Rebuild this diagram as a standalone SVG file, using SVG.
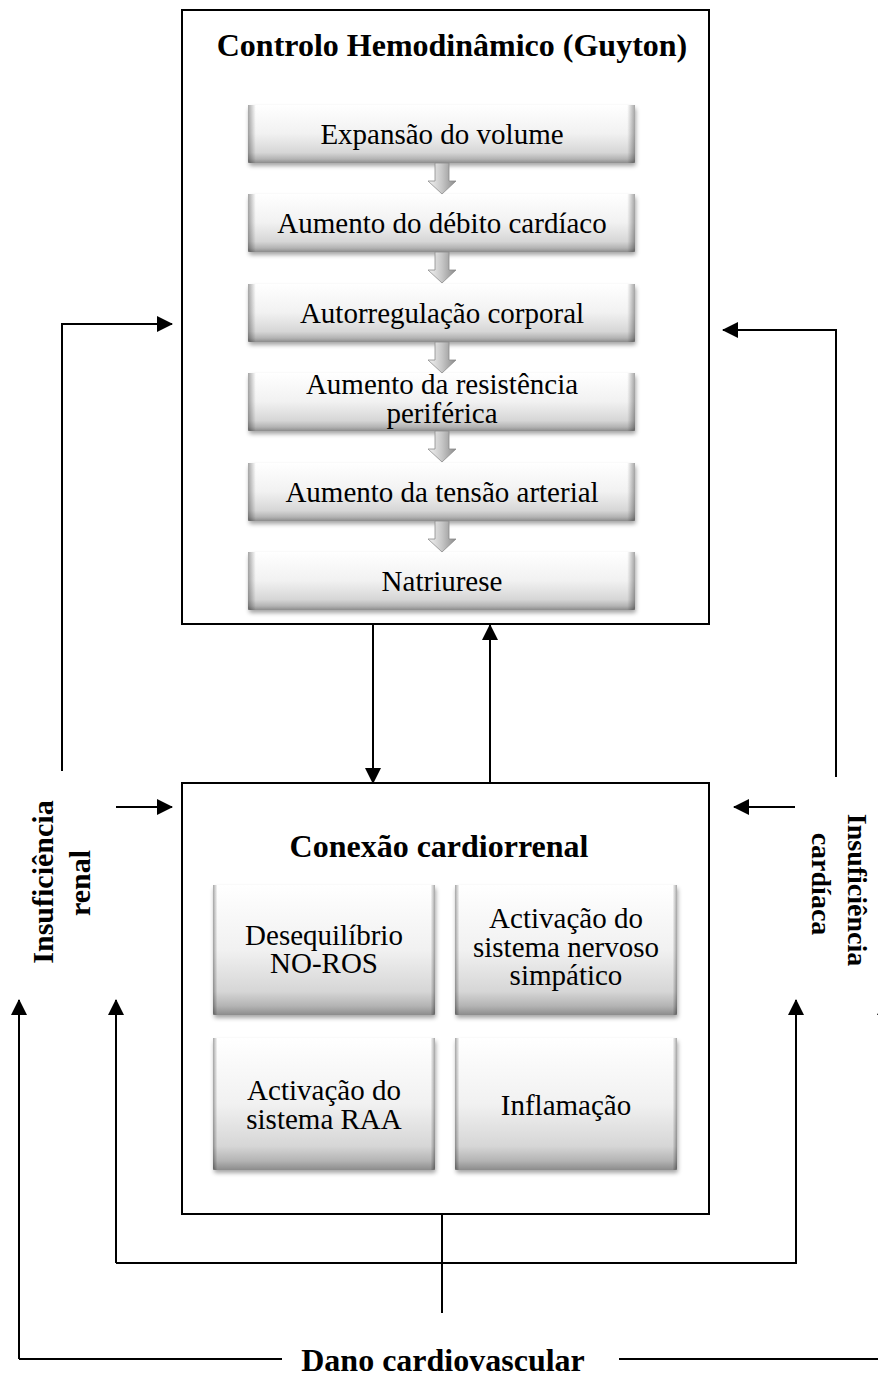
<svg xmlns="http://www.w3.org/2000/svg" width="878" height="1377" viewBox="0 0 878 1377">
<style>
.frame{fill:#fff;stroke:#000;stroke-width:2}
.ln{fill:none;stroke:#000;stroke-width:2}
.ttl{font-family:"Liberation Serif","Times New Roman",serif;font-weight:bold;font-size:32px;fill:#000;text-anchor:middle}
.side{font-family:"Liberation Serif","Times New Roman",serif;font-weight:bold;font-size:30px;fill:#000;text-anchor:middle}
.txt{font-family:"Liberation Serif","Times New Roman",serif;font-size:29px;fill:#000;text-anchor:middle}
.bx{fill:url(#gV);filter:url(#sh)}
.bxe{fill:url(#gH)}
.ba{fill:url(#gA);stroke:#8c8c8c;stroke-width:0.8}
</style>
<defs>
<linearGradient id="gV" x1="0" y1="0" x2="0" y2="1">
<stop offset="0" stop-color="#ffffff"/>
<stop offset="0.5" stop-color="#f1f1f1"/>
<stop offset="0.82" stop-color="#d6d6d6"/>
<stop offset="0.93" stop-color="#b4b4b4"/>
<stop offset="1" stop-color="#8c8c8c"/>
</linearGradient>
<linearGradient id="gH" x1="0" y1="0" x2="1" y2="0">
<stop offset="0" stop-color="#000" stop-opacity="0.35"/>
<stop offset="0.02" stop-color="#000" stop-opacity="0"/>
<stop offset="0.98" stop-color="#000" stop-opacity="0"/>
<stop offset="1" stop-color="#000" stop-opacity="0.35"/>
</linearGradient>
<linearGradient id="gA" x1="0" y1="0" x2="1" y2="0">
<stop offset="0" stop-color="#f4f4f4"/>
<stop offset="0.5" stop-color="#c6c6c6"/>
<stop offset="1" stop-color="#8a8a8a"/>
</linearGradient>
<filter id="sh" x="-10%" y="-20%" width="120%" height="150%">
<feDropShadow dx="1" dy="3" stdDeviation="2" flood-color="#000" flood-opacity="0.35"/>
</filter>
<marker id="ah" markerUnits="userSpaceOnUse" markerWidth="16" markerHeight="16" refX="15" refY="8" orient="auto">
<path d="M0,0 L16,8 L0,16 z" fill="#000"/>
</marker>
</defs>

<g id="hemodinamico">
<rect class="frame" x="182" y="10" width="527" height="614"/>
<text class="ttl" x="452" y="56">Controlo Hemodinâmico (Guyton)</text>
</g>

<g id="s1"><rect class="bx" x="248" y="105" width="387" height="58" rx="2"/><rect class="bxe" x="248" y="105" width="387" height="58"/><text class="txt" x="442" y="144">Expansão do volume</text></g>
<g id="s2"><rect class="bx" x="248" y="194" width="387" height="58" rx="2"/><rect class="bxe" x="248" y="194" width="387" height="58"/><text class="txt" x="442" y="233">Aumento do débito cardíaco</text></g>
<g id="s3"><rect class="bx" x="248" y="284" width="387" height="58" rx="2"/><rect class="bxe" x="248" y="284" width="387" height="58"/><text class="txt" x="442" y="323">Autorregulação corporal</text></g>
<g id="s4"><rect class="bx" x="248" y="373" width="387" height="58" rx="2"/><rect class="bxe" x="248" y="373" width="387" height="58"/><text class="txt" x="442" y="394">Aumento da resistência</text><text class="txt" x="442" y="423">periférica</text></g>
<g id="s5"><rect class="bx" x="248" y="463" width="387" height="58" rx="2"/><rect class="bxe" x="248" y="463" width="387" height="58"/><text class="txt" x="442" y="502">Aumento da tensão arterial</text></g>
<g id="s6"><rect class="bx" x="248" y="552" width="387" height="58" rx="2"/><rect class="bxe" x="248" y="552" width="387" height="58"/><text class="txt" x="442" y="591">Natriurese</text></g>

<g id="block-arrows">
<polygon class="ba" transform="translate(442,163)" points="-7,0 7,0 7,18 14,18 0,31 -14,18 -7,18"/>
<polygon class="ba" transform="translate(442,252)" points="-7,0 7,0 7,18 14,18 0,31 -14,18 -7,18"/>
<polygon class="ba" transform="translate(442,342)" points="-7,0 7,0 7,18 14,18 0,31 -14,18 -7,18"/>
<polygon class="ba" transform="translate(442,431)" points="-7,0 7,0 7,18 14,18 0,31 -14,18 -7,18"/>
<polygon class="ba" transform="translate(442,521)" points="-7,0 7,0 7,18 14,18 0,31 -14,18 -7,18"/>
</g>

<g id="cardiorrenal">
<rect class="frame" x="182" y="783" width="527" height="431"/>
<text class="ttl" x="439" y="857">Conexão cardiorrenal</text>
</g>

<g id="c1"><rect class="bx" x="213" y="885" width="222" height="130" rx="2"/><rect class="bxe" x="213" y="885" width="222" height="130"/><text class="txt" x="324" y="945">Desequilíbrio</text><text class="txt" x="324" y="973">NO-ROS</text></g>
<g id="c2"><rect class="bx" x="455" y="885" width="222" height="130" rx="2"/><rect class="bxe" x="455" y="885" width="222" height="130"/><text class="txt" x="566" y="928">Activação do</text><text class="txt" x="566" y="957">sistema nervoso</text><text class="txt" x="566" y="985">simpático</text></g>
<g id="c3"><rect class="bx" x="213" y="1038" width="222" height="132" rx="2"/><rect class="bxe" x="213" y="1038" width="222" height="132"/><text class="txt" x="324" y="1100">Activação do</text><text class="txt" x="324" y="1129">sistema RAA</text></g>
<g id="c4"><rect class="bx" x="455" y="1038" width="222" height="132" rx="2"/><rect class="bxe" x="455" y="1038" width="222" height="132"/><text class="txt" x="566" y="1115">Inflamação</text></g>

<g id="renal">
<text class="side" transform="translate(53,882) rotate(-90)">Insuficiência</text>
<text class="side" transform="translate(90,883) rotate(-90)">renal</text>
</g>
<g id="cardiaca">
<text class="side" style="font-size:28px" transform="translate(848,890) rotate(90)">Insuficiência</text>
<text class="side" style="font-size:28px" transform="translate(812,884) rotate(90)">cardíaca</text>
</g>
<g id="dano">
<text class="ttl" x="443" y="1371">Dano cardiovascular</text>
</g>

<g id="connectors">
<path class="ln" d="M62,771 L62,324 L172,324" marker-end="url(#ah)"/>
<path class="ln" d="M836,777 L836,330 L723,330" marker-end="url(#ah)"/>
<path class="ln" d="M373,624 L373,783" marker-end="url(#ah)"/>
<path class="ln" d="M490,783 L490,625" marker-end="url(#ah)"/>
<path class="ln" d="M116,807 L172,807" marker-end="url(#ah)"/>
<path class="ln" d="M795,807 L734,807" marker-end="url(#ah)"/>
<path class="ln" d="M442,1214 L442,1313"/>
<path class="ln" d="M116,1263 L116,1000" marker-end="url(#ah)"/>
<path class="ln" d="M116,1263 L796,1263 L796,1000" marker-end="url(#ah)"/>
<path class="ln" d="M19,1359 L19,1000" marker-end="url(#ah)"/>
<path class="ln" d="M19,1359 L282,1359"/>
<path class="ln" d="M619,1359 L885,1359 L885,1000" marker-end="url(#ah)"/>
</g>
</svg>
